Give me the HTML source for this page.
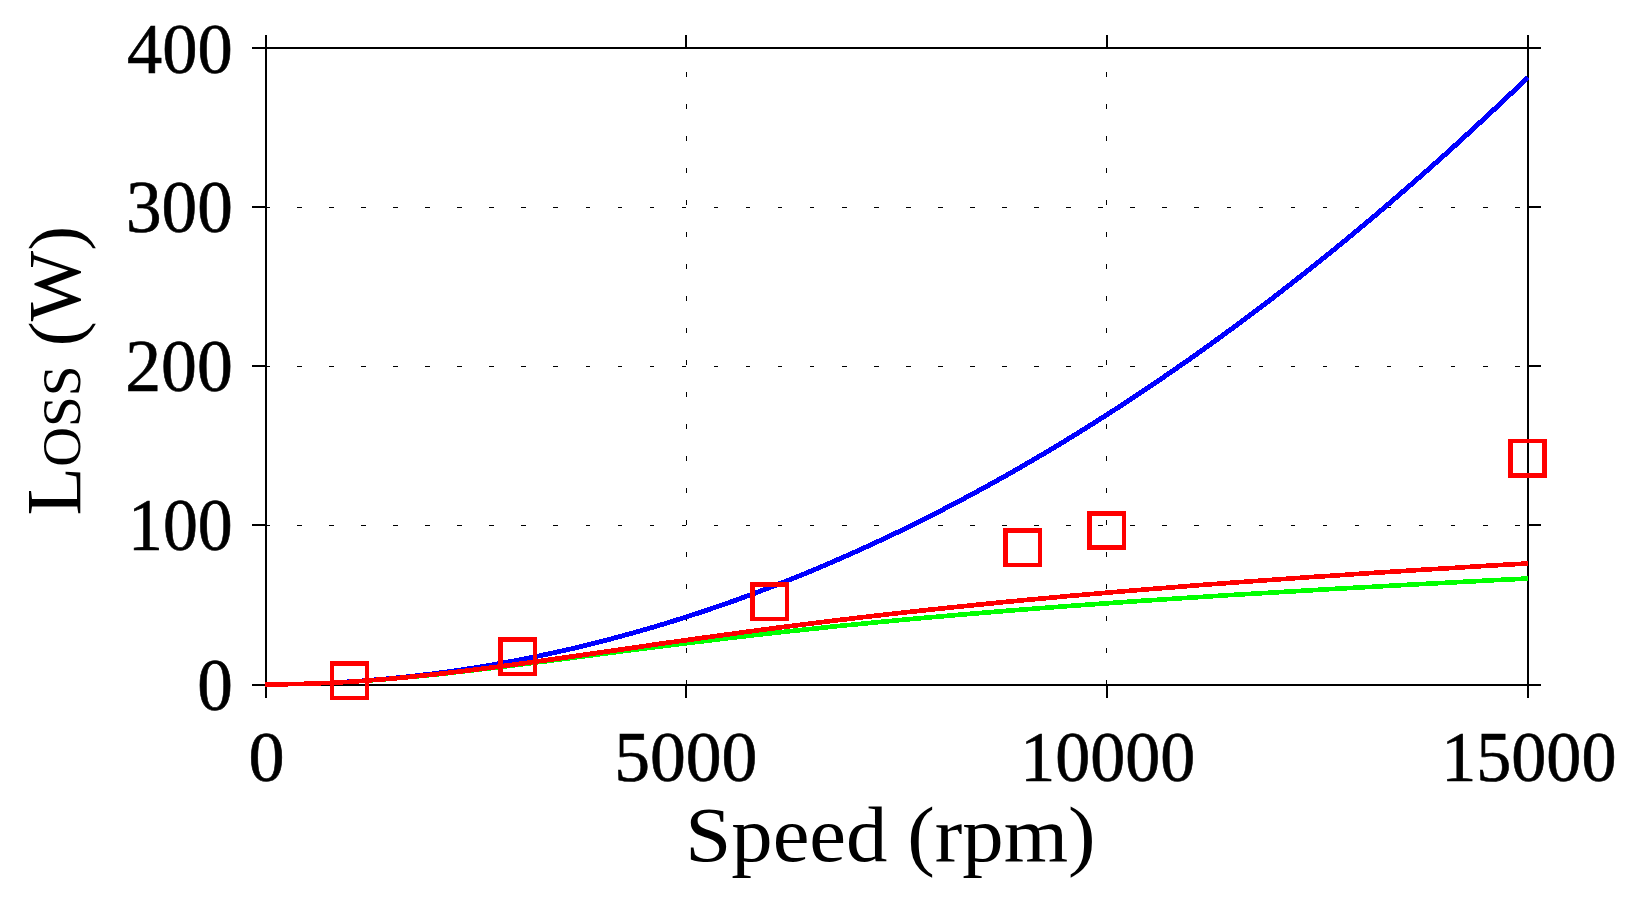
<!DOCTYPE html>
<html lang="en"><head><meta charset="utf-8"><title>Loss vs Speed</title>
<style>html,body{margin:0;padding:0;background:#fff;overflow:hidden}svg{display:block}text{font-family:"Liberation Serif","Times New Roman",serif;fill:#000}.t{font-size:72px;stroke:#000;stroke-width:.6px}.l{font-size:78px}.sc{font-variant:small-caps}</style></head><body>
<svg width="1633" height="905" viewBox="0 0 1633 905">
<rect width="1633" height="905" fill="#fff"/>
<g stroke="#000" stroke-width="1" shape-rendering="crispEdges" fill="none">
<path stroke-dasharray="4.6 27.45" d="M265.0,525.5 H1528.0"/>
<path stroke-dasharray="4.6 27.45" d="M265.0,366.5 H1528.0"/>
<path stroke-dasharray="4.6 27.45" d="M265.0,207.5 H1528.0"/>
<path stroke-dasharray="4.6 27.4" d="M686.5,685.0 V48.0"/>
<path stroke-dasharray="4.6 27.4" d="M1106.5,685.0 V48.0"/>
</g>
<g stroke="#000" stroke-width="2" shape-rendering="crispEdges" fill="none">
<rect x="266" y="48" width="1262" height="637"/>
<path d="M266,685 V698"/>
<path d="M266,48 V35"/>
<path d="M686,685 V698"/>
<path d="M686,48 V35"/>
<path d="M1107,685 V698"/>
<path d="M1107,48 V35"/>
<path d="M1528,685 V698"/>
<path d="M1528,48 V35"/>
<path d="M266,685 H252"/>
<path d="M1528,685 H1541"/>
<path d="M266,525 H252"/>
<path d="M1528,525 H1541"/>
<path d="M266,366 H252"/>
<path d="M1528,366 H1541"/>
<path d="M266,207 H252"/>
<path d="M1528,207 H1541"/>
<path d="M266,48 H252"/>
<path d="M1528,48 H1541"/>
</g>
<g fill="none" stroke-width="3.60" shape-rendering="crispEdges" stroke-linejoin="round">
<g stroke="#0000ff">
<path transform="translate(-0.5,-0.5)" d="M265.5,684.4 L282.3,684.3 L299.2,684.0 L316.0,683.4 L332.8,682.7 L349.6,681.7 L366.5,680.5 L383.3,679.1 L400.1,677.5 L416.9,675.7 L433.8,673.6 L450.6,671.4 L467.4,668.9 L484.2,666.2 L501.1,663.3 L517.9,660.1 L534.7,656.8 L551.6,653.2 L568.4,649.5 L585.2,645.5 L602.0,641.3 L618.9,636.8 L635.7,632.2 L652.5,627.4 L669.3,622.3 L686.2,617.0 L703.0,611.5 L719.8,605.8 L736.6,599.9 L753.5,593.7 L770.3,587.3 L787.1,580.8 L804.0,574.0 L820.8,567.0 L837.6,559.7 L854.4,552.3 L871.3,544.6 L888.1,536.8 L904.9,528.7 L921.7,520.4 L938.6,511.8 L955.4,503.1 L972.2,494.2 L989.0,485.0 L1005.9,475.6 L1022.7,466.0 L1039.5,456.2 L1056.4,446.2 L1073.2,435.9 L1090.0,425.5 L1106.8,414.8 L1123.7,403.9 L1140.5,392.8 L1157.3,381.5 L1174.1,369.9 L1191.0,358.2 L1207.8,346.2 L1224.6,334.0 L1241.4,321.6 L1258.3,309.0 L1275.1,296.2 L1291.9,283.1 L1308.8,269.8 L1325.6,256.4 L1342.4,242.7 L1359.2,228.8 L1376.1,214.6 L1392.9,200.3 L1409.7,185.7 L1426.5,171.0 L1443.4,156.0 L1460.2,140.8 L1477.0,125.3 L1493.8,109.7 L1510.7,93.8 L1527.5,77.8"/>
<path transform="translate(0.5,-0.5)" d="M265.5,684.4 L282.3,684.3 L299.2,684.0 L316.0,683.4 L332.8,682.7 L349.6,681.7 L366.5,680.5 L383.3,679.1 L400.1,677.5 L416.9,675.7 L433.8,673.6 L450.6,671.4 L467.4,668.9 L484.2,666.2 L501.1,663.3 L517.9,660.1 L534.7,656.8 L551.6,653.2 L568.4,649.5 L585.2,645.5 L602.0,641.3 L618.9,636.8 L635.7,632.2 L652.5,627.4 L669.3,622.3 L686.2,617.0 L703.0,611.5 L719.8,605.8 L736.6,599.9 L753.5,593.7 L770.3,587.3 L787.1,580.8 L804.0,574.0 L820.8,567.0 L837.6,559.7 L854.4,552.3 L871.3,544.6 L888.1,536.8 L904.9,528.7 L921.7,520.4 L938.6,511.8 L955.4,503.1 L972.2,494.2 L989.0,485.0 L1005.9,475.6 L1022.7,466.0 L1039.5,456.2 L1056.4,446.2 L1073.2,435.9 L1090.0,425.5 L1106.8,414.8 L1123.7,403.9 L1140.5,392.8 L1157.3,381.5 L1174.1,369.9 L1191.0,358.2 L1207.8,346.2 L1224.6,334.0 L1241.4,321.6 L1258.3,309.0 L1275.1,296.2 L1291.9,283.1 L1308.8,269.8 L1325.6,256.4 L1342.4,242.7 L1359.2,228.8 L1376.1,214.6 L1392.9,200.3 L1409.7,185.7 L1426.5,171.0 L1443.4,156.0 L1460.2,140.8 L1477.0,125.3 L1493.8,109.7 L1510.7,93.8 L1527.5,77.8"/>
<path transform="translate(-0.5,0.5)" d="M265.5,684.4 L282.3,684.3 L299.2,684.0 L316.0,683.4 L332.8,682.7 L349.6,681.7 L366.5,680.5 L383.3,679.1 L400.1,677.5 L416.9,675.7 L433.8,673.6 L450.6,671.4 L467.4,668.9 L484.2,666.2 L501.1,663.3 L517.9,660.1 L534.7,656.8 L551.6,653.2 L568.4,649.5 L585.2,645.5 L602.0,641.3 L618.9,636.8 L635.7,632.2 L652.5,627.4 L669.3,622.3 L686.2,617.0 L703.0,611.5 L719.8,605.8 L736.6,599.9 L753.5,593.7 L770.3,587.3 L787.1,580.8 L804.0,574.0 L820.8,567.0 L837.6,559.7 L854.4,552.3 L871.3,544.6 L888.1,536.8 L904.9,528.7 L921.7,520.4 L938.6,511.8 L955.4,503.1 L972.2,494.2 L989.0,485.0 L1005.9,475.6 L1022.7,466.0 L1039.5,456.2 L1056.4,446.2 L1073.2,435.9 L1090.0,425.5 L1106.8,414.8 L1123.7,403.9 L1140.5,392.8 L1157.3,381.5 L1174.1,369.9 L1191.0,358.2 L1207.8,346.2 L1224.6,334.0 L1241.4,321.6 L1258.3,309.0 L1275.1,296.2 L1291.9,283.1 L1308.8,269.8 L1325.6,256.4 L1342.4,242.7 L1359.2,228.8 L1376.1,214.6 L1392.9,200.3 L1409.7,185.7 L1426.5,171.0 L1443.4,156.0 L1460.2,140.8 L1477.0,125.3 L1493.8,109.7 L1510.7,93.8 L1527.5,77.8"/>
<path transform="translate(0.5,0.5)" d="M265.5,684.4 L282.3,684.3 L299.2,684.0 L316.0,683.4 L332.8,682.7 L349.6,681.7 L366.5,680.5 L383.3,679.1 L400.1,677.5 L416.9,675.7 L433.8,673.6 L450.6,671.4 L467.4,668.9 L484.2,666.2 L501.1,663.3 L517.9,660.1 L534.7,656.8 L551.6,653.2 L568.4,649.5 L585.2,645.5 L602.0,641.3 L618.9,636.8 L635.7,632.2 L652.5,627.4 L669.3,622.3 L686.2,617.0 L703.0,611.5 L719.8,605.8 L736.6,599.9 L753.5,593.7 L770.3,587.3 L787.1,580.8 L804.0,574.0 L820.8,567.0 L837.6,559.7 L854.4,552.3 L871.3,544.6 L888.1,536.8 L904.9,528.7 L921.7,520.4 L938.6,511.8 L955.4,503.1 L972.2,494.2 L989.0,485.0 L1005.9,475.6 L1022.7,466.0 L1039.5,456.2 L1056.4,446.2 L1073.2,435.9 L1090.0,425.5 L1106.8,414.8 L1123.7,403.9 L1140.5,392.8 L1157.3,381.5 L1174.1,369.9 L1191.0,358.2 L1207.8,346.2 L1224.6,334.0 L1241.4,321.6 L1258.3,309.0 L1275.1,296.2 L1291.9,283.1 L1308.8,269.8 L1325.6,256.4 L1342.4,242.7 L1359.2,228.8 L1376.1,214.6 L1392.9,200.3 L1409.7,185.7 L1426.5,171.0 L1443.4,156.0 L1460.2,140.8 L1477.0,125.3 L1493.8,109.7 L1510.7,93.8 L1527.5,77.8"/>
</g>
<g stroke="#00ff00">
<path transform="translate(-0.5,-0.5)" d="M265.5,684.4 L282.3,684.3 L299.2,684.0 L316.0,683.4 L332.8,682.7 L349.6,681.8 L366.5,680.7 L383.3,679.4 L400.1,677.9 L416.9,676.4 L433.8,674.7 L450.6,672.8 L467.4,670.9 L484.2,668.9 L501.1,666.9 L517.9,664.8 L534.7,662.6 L551.6,660.5 L568.4,658.3 L585.2,656.1 L602.0,653.9 L618.9,651.7 L635.7,649.6 L652.5,647.4 L669.3,645.3 L686.2,643.2 L703.0,641.2 L719.8,639.1 L736.6,637.2 L753.5,635.2 L770.3,633.3 L787.1,631.5 L804.0,629.7 L820.8,627.9 L837.6,626.1 L854.4,624.5 L871.3,622.8 L888.1,621.2 L904.9,619.6 L921.7,618.1 L938.6,616.6 L955.4,615.1 L972.2,613.7 L989.0,612.3 L1005.9,610.9 L1022.7,609.6 L1039.5,608.2 L1056.4,607.0 L1073.2,605.7 L1090.0,604.5 L1106.8,603.3 L1123.7,602.1 L1140.5,600.9 L1157.3,599.8 L1174.1,598.7 L1191.0,597.6 L1207.8,596.5 L1224.6,595.4 L1241.4,594.4 L1258.3,593.4 L1275.1,592.4 L1291.9,591.4 L1308.8,590.4 L1325.6,589.4 L1342.4,588.4 L1359.2,587.5 L1376.1,586.6 L1392.9,585.6 L1409.7,584.7 L1426.5,583.8 L1443.4,582.9 L1460.2,582.0 L1477.0,581.1 L1493.8,580.2 L1510.7,579.4 L1527.5,578.5"/>
<path transform="translate(0.5,-0.5)" d="M265.5,684.4 L282.3,684.3 L299.2,684.0 L316.0,683.4 L332.8,682.7 L349.6,681.8 L366.5,680.7 L383.3,679.4 L400.1,677.9 L416.9,676.4 L433.8,674.7 L450.6,672.8 L467.4,670.9 L484.2,668.9 L501.1,666.9 L517.9,664.8 L534.7,662.6 L551.6,660.5 L568.4,658.3 L585.2,656.1 L602.0,653.9 L618.9,651.7 L635.7,649.6 L652.5,647.4 L669.3,645.3 L686.2,643.2 L703.0,641.2 L719.8,639.1 L736.6,637.2 L753.5,635.2 L770.3,633.3 L787.1,631.5 L804.0,629.7 L820.8,627.9 L837.6,626.1 L854.4,624.5 L871.3,622.8 L888.1,621.2 L904.9,619.6 L921.7,618.1 L938.6,616.6 L955.4,615.1 L972.2,613.7 L989.0,612.3 L1005.9,610.9 L1022.7,609.6 L1039.5,608.2 L1056.4,607.0 L1073.2,605.7 L1090.0,604.5 L1106.8,603.3 L1123.7,602.1 L1140.5,600.9 L1157.3,599.8 L1174.1,598.7 L1191.0,597.6 L1207.8,596.5 L1224.6,595.4 L1241.4,594.4 L1258.3,593.4 L1275.1,592.4 L1291.9,591.4 L1308.8,590.4 L1325.6,589.4 L1342.4,588.4 L1359.2,587.5 L1376.1,586.6 L1392.9,585.6 L1409.7,584.7 L1426.5,583.8 L1443.4,582.9 L1460.2,582.0 L1477.0,581.1 L1493.8,580.2 L1510.7,579.4 L1527.5,578.5"/>
<path transform="translate(-0.5,0.5)" d="M265.5,684.4 L282.3,684.3 L299.2,684.0 L316.0,683.4 L332.8,682.7 L349.6,681.8 L366.5,680.7 L383.3,679.4 L400.1,677.9 L416.9,676.4 L433.8,674.7 L450.6,672.8 L467.4,670.9 L484.2,668.9 L501.1,666.9 L517.9,664.8 L534.7,662.6 L551.6,660.5 L568.4,658.3 L585.2,656.1 L602.0,653.9 L618.9,651.7 L635.7,649.6 L652.5,647.4 L669.3,645.3 L686.2,643.2 L703.0,641.2 L719.8,639.1 L736.6,637.2 L753.5,635.2 L770.3,633.3 L787.1,631.5 L804.0,629.7 L820.8,627.9 L837.6,626.1 L854.4,624.5 L871.3,622.8 L888.1,621.2 L904.9,619.6 L921.7,618.1 L938.6,616.6 L955.4,615.1 L972.2,613.7 L989.0,612.3 L1005.9,610.9 L1022.7,609.6 L1039.5,608.2 L1056.4,607.0 L1073.2,605.7 L1090.0,604.5 L1106.8,603.3 L1123.7,602.1 L1140.5,600.9 L1157.3,599.8 L1174.1,598.7 L1191.0,597.6 L1207.8,596.5 L1224.6,595.4 L1241.4,594.4 L1258.3,593.4 L1275.1,592.4 L1291.9,591.4 L1308.8,590.4 L1325.6,589.4 L1342.4,588.4 L1359.2,587.5 L1376.1,586.6 L1392.9,585.6 L1409.7,584.7 L1426.5,583.8 L1443.4,582.9 L1460.2,582.0 L1477.0,581.1 L1493.8,580.2 L1510.7,579.4 L1527.5,578.5"/>
<path transform="translate(0.5,0.5)" d="M265.5,684.4 L282.3,684.3 L299.2,684.0 L316.0,683.4 L332.8,682.7 L349.6,681.8 L366.5,680.7 L383.3,679.4 L400.1,677.9 L416.9,676.4 L433.8,674.7 L450.6,672.8 L467.4,670.9 L484.2,668.9 L501.1,666.9 L517.9,664.8 L534.7,662.6 L551.6,660.5 L568.4,658.3 L585.2,656.1 L602.0,653.9 L618.9,651.7 L635.7,649.6 L652.5,647.4 L669.3,645.3 L686.2,643.2 L703.0,641.2 L719.8,639.1 L736.6,637.2 L753.5,635.2 L770.3,633.3 L787.1,631.5 L804.0,629.7 L820.8,627.9 L837.6,626.1 L854.4,624.5 L871.3,622.8 L888.1,621.2 L904.9,619.6 L921.7,618.1 L938.6,616.6 L955.4,615.1 L972.2,613.7 L989.0,612.3 L1005.9,610.9 L1022.7,609.6 L1039.5,608.2 L1056.4,607.0 L1073.2,605.7 L1090.0,604.5 L1106.8,603.3 L1123.7,602.1 L1140.5,600.9 L1157.3,599.8 L1174.1,598.7 L1191.0,597.6 L1207.8,596.5 L1224.6,595.4 L1241.4,594.4 L1258.3,593.4 L1275.1,592.4 L1291.9,591.4 L1308.8,590.4 L1325.6,589.4 L1342.4,588.4 L1359.2,587.5 L1376.1,586.6 L1392.9,585.6 L1409.7,584.7 L1426.5,583.8 L1443.4,582.9 L1460.2,582.0 L1477.0,581.1 L1493.8,580.2 L1510.7,579.4 L1527.5,578.5"/>
</g>
<g stroke="#ff0000">
<path transform="translate(-0.5,-0.5)" d="M265.5,684.4 L282.3,684.3 L299.2,684.0 L316.0,683.4 L332.8,682.7 L349.6,681.8 L366.5,680.6 L383.3,679.3 L400.1,677.9 L416.9,676.2 L433.8,674.5 L450.6,672.6 L467.4,670.6 L484.2,668.5 L501.1,666.3 L517.9,664.1 L534.7,661.8 L551.6,659.4 L568.4,657.0 L585.2,654.6 L602.0,652.2 L618.9,649.8 L635.7,647.4 L652.5,644.9 L669.3,642.5 L686.2,640.2 L703.0,637.8 L719.8,635.5 L736.6,633.2 L753.5,630.9 L770.3,628.7 L787.1,626.5 L804.0,624.4 L820.8,622.3 L837.6,620.2 L854.4,618.2 L871.3,616.2 L888.1,614.3 L904.9,612.4 L921.7,610.6 L938.6,608.8 L955.4,607.0 L972.2,605.3 L989.0,603.6 L1005.9,601.9 L1022.7,600.3 L1039.5,598.7 L1056.4,597.2 L1073.2,595.6 L1090.0,594.2 L1106.8,592.7 L1123.7,591.3 L1140.5,589.9 L1157.3,588.5 L1174.1,587.2 L1191.0,585.8 L1207.8,584.5 L1224.6,583.3 L1241.4,582.0 L1258.3,580.8 L1275.1,579.6 L1291.9,578.4 L1308.8,577.2 L1325.6,576.1 L1342.4,575.0 L1359.2,573.8 L1376.1,572.7 L1392.9,571.7 L1409.7,570.6 L1426.5,569.5 L1443.4,568.5 L1460.2,567.5 L1477.0,566.4 L1493.8,565.4 L1510.7,564.4 L1527.5,563.5"/>
<path transform="translate(0.5,-0.5)" d="M265.5,684.4 L282.3,684.3 L299.2,684.0 L316.0,683.4 L332.8,682.7 L349.6,681.8 L366.5,680.6 L383.3,679.3 L400.1,677.9 L416.9,676.2 L433.8,674.5 L450.6,672.6 L467.4,670.6 L484.2,668.5 L501.1,666.3 L517.9,664.1 L534.7,661.8 L551.6,659.4 L568.4,657.0 L585.2,654.6 L602.0,652.2 L618.9,649.8 L635.7,647.4 L652.5,644.9 L669.3,642.5 L686.2,640.2 L703.0,637.8 L719.8,635.5 L736.6,633.2 L753.5,630.9 L770.3,628.7 L787.1,626.5 L804.0,624.4 L820.8,622.3 L837.6,620.2 L854.4,618.2 L871.3,616.2 L888.1,614.3 L904.9,612.4 L921.7,610.6 L938.6,608.8 L955.4,607.0 L972.2,605.3 L989.0,603.6 L1005.9,601.9 L1022.7,600.3 L1039.5,598.7 L1056.4,597.2 L1073.2,595.6 L1090.0,594.2 L1106.8,592.7 L1123.7,591.3 L1140.5,589.9 L1157.3,588.5 L1174.1,587.2 L1191.0,585.8 L1207.8,584.5 L1224.6,583.3 L1241.4,582.0 L1258.3,580.8 L1275.1,579.6 L1291.9,578.4 L1308.8,577.2 L1325.6,576.1 L1342.4,575.0 L1359.2,573.8 L1376.1,572.7 L1392.9,571.7 L1409.7,570.6 L1426.5,569.5 L1443.4,568.5 L1460.2,567.5 L1477.0,566.4 L1493.8,565.4 L1510.7,564.4 L1527.5,563.5"/>
<path transform="translate(-0.5,0.5)" d="M265.5,684.4 L282.3,684.3 L299.2,684.0 L316.0,683.4 L332.8,682.7 L349.6,681.8 L366.5,680.6 L383.3,679.3 L400.1,677.9 L416.9,676.2 L433.8,674.5 L450.6,672.6 L467.4,670.6 L484.2,668.5 L501.1,666.3 L517.9,664.1 L534.7,661.8 L551.6,659.4 L568.4,657.0 L585.2,654.6 L602.0,652.2 L618.9,649.8 L635.7,647.4 L652.5,644.9 L669.3,642.5 L686.2,640.2 L703.0,637.8 L719.8,635.5 L736.6,633.2 L753.5,630.9 L770.3,628.7 L787.1,626.5 L804.0,624.4 L820.8,622.3 L837.6,620.2 L854.4,618.2 L871.3,616.2 L888.1,614.3 L904.9,612.4 L921.7,610.6 L938.6,608.8 L955.4,607.0 L972.2,605.3 L989.0,603.6 L1005.9,601.9 L1022.7,600.3 L1039.5,598.7 L1056.4,597.2 L1073.2,595.6 L1090.0,594.2 L1106.8,592.7 L1123.7,591.3 L1140.5,589.9 L1157.3,588.5 L1174.1,587.2 L1191.0,585.8 L1207.8,584.5 L1224.6,583.3 L1241.4,582.0 L1258.3,580.8 L1275.1,579.6 L1291.9,578.4 L1308.8,577.2 L1325.6,576.1 L1342.4,575.0 L1359.2,573.8 L1376.1,572.7 L1392.9,571.7 L1409.7,570.6 L1426.5,569.5 L1443.4,568.5 L1460.2,567.5 L1477.0,566.4 L1493.8,565.4 L1510.7,564.4 L1527.5,563.5"/>
<path transform="translate(0.5,0.5)" d="M265.5,684.4 L282.3,684.3 L299.2,684.0 L316.0,683.4 L332.8,682.7 L349.6,681.8 L366.5,680.6 L383.3,679.3 L400.1,677.9 L416.9,676.2 L433.8,674.5 L450.6,672.6 L467.4,670.6 L484.2,668.5 L501.1,666.3 L517.9,664.1 L534.7,661.8 L551.6,659.4 L568.4,657.0 L585.2,654.6 L602.0,652.2 L618.9,649.8 L635.7,647.4 L652.5,644.9 L669.3,642.5 L686.2,640.2 L703.0,637.8 L719.8,635.5 L736.6,633.2 L753.5,630.9 L770.3,628.7 L787.1,626.5 L804.0,624.4 L820.8,622.3 L837.6,620.2 L854.4,618.2 L871.3,616.2 L888.1,614.3 L904.9,612.4 L921.7,610.6 L938.6,608.8 L955.4,607.0 L972.2,605.3 L989.0,603.6 L1005.9,601.9 L1022.7,600.3 L1039.5,598.7 L1056.4,597.2 L1073.2,595.6 L1090.0,594.2 L1106.8,592.7 L1123.7,591.3 L1140.5,589.9 L1157.3,588.5 L1174.1,587.2 L1191.0,585.8 L1207.8,584.5 L1224.6,583.3 L1241.4,582.0 L1258.3,580.8 L1275.1,579.6 L1291.9,578.4 L1308.8,577.2 L1325.6,576.1 L1342.4,575.0 L1359.2,573.8 L1376.1,572.7 L1392.9,571.7 L1409.7,570.6 L1426.5,569.5 L1443.4,568.5 L1460.2,567.5 L1477.0,566.4 L1493.8,565.4 L1510.7,564.4 L1527.5,563.5"/>
</g>
</g>
<g fill="#ff0000" fill-rule="evenodd" shape-rendering="crispEdges">
<path d="M330,661h39v39h-39z M334,666h31v30h-31z"/>
<path d="M498,637h39v39h-39z M503,642h30v30h-30z"/>
<path d="M750,582h39v39h-39z M755,587h30v30h-30z"/>
<path d="M1003,528h39v39h-39z M1008,533h30v30h-30z"/>
<path d="M1087,511h39v39h-39z M1092,516h30v29h-30z"/>
<path d="M1508,439h39v39h-39z M1513,443h29v30h-29z"/>
</g>
<text class="t" text-anchor="end" transform="translate(232.74,710.18) scale(0.9890,1.0156)">0</text>
<text class="t" text-anchor="end" transform="translate(232.69,550.18) scale(0.9692,1.0156)">100</text>
<text class="t" text-anchor="end" transform="translate(232.76,391.08) scale(0.9960,1.0197)">200</text>
<text class="t" text-anchor="end" transform="translate(232.74,232.18) scale(0.9890,1.0147)">300</text>
<text class="t" text-anchor="end" transform="translate(232.72,72.74) scale(0.9791,1.0057)">400</text>
<text class="t" text-anchor="middle" transform="translate(266.50,781.23) scale(1.0019,1.0103)">0</text>
<text class="t" text-anchor="middle" transform="translate(685.79,781.23) scale(0.9950,1.0103)">5000</text>
<text class="t" text-anchor="middle" transform="translate(1107.80,781.23) scale(0.9722,1.0103)">10000</text>
<text class="t" text-anchor="middle" transform="translate(1528.81,781.23) scale(0.9741,1.0103)">15000</text>
<text class="l" transform="translate(685.26,861.00) scale(1.0610,0.9900)">Speed<tspan dx="-0.85"> (rpm)</tspan></text>
<text class="l sc" transform="translate(79.94,515.43) rotate(-90) scale(1.0200,1.0120)">Loss<tspan font-size="73.2" dx="0.72"> (W)</tspan></text>
</svg></body></html>
